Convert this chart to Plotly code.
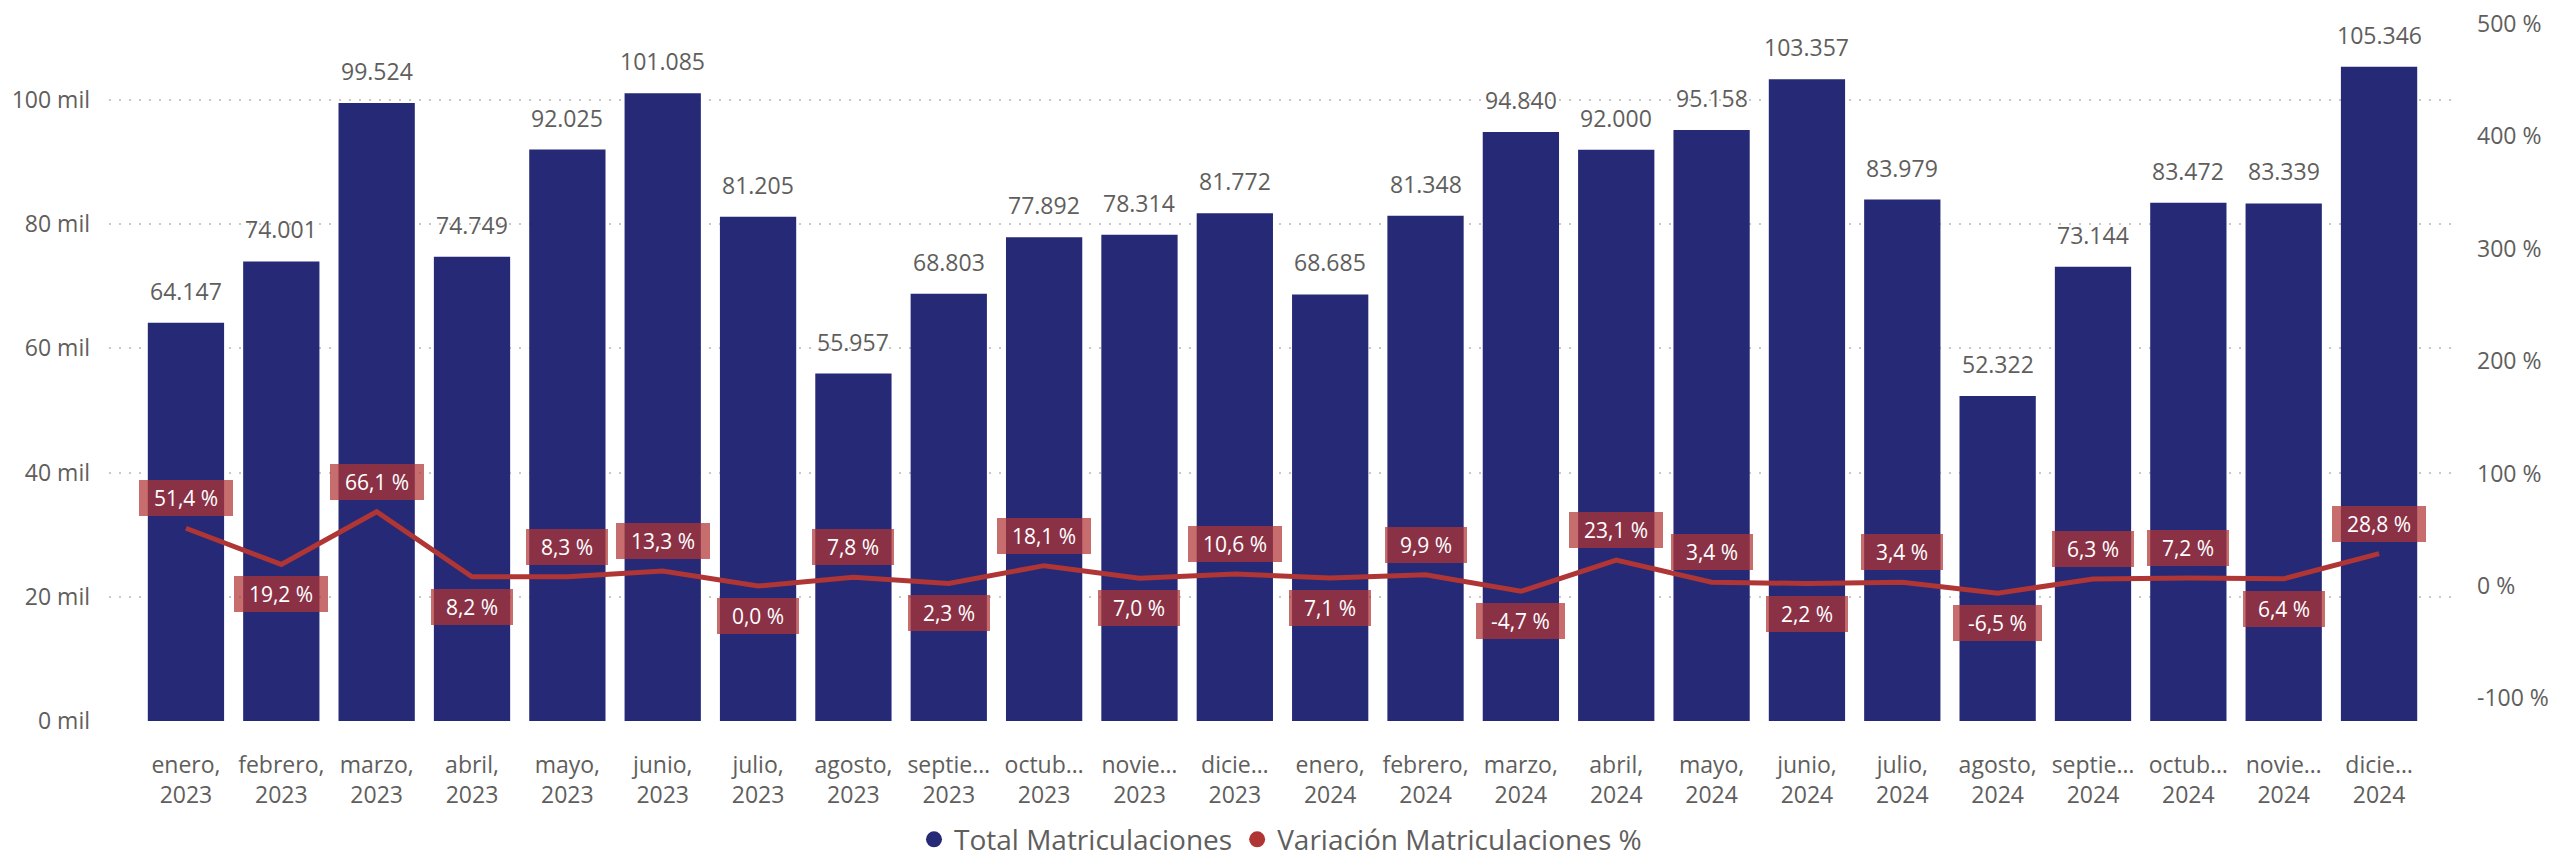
import plotly.graph_objects as go

months = ["enero,", "febrero,", "marzo,", "abril,", "mayo,", "junio,", "julio,", "agosto,",
          "septie…", "octub…", "novie…", "dicie…"] * 2
years = ["2023"] * 12 + ["2024"] * 12
categories = [f"{m}<br>{y}" for m, y in zip(months, years)]

total_matriculaciones = [64147, 74001, 99524, 74749, 92025, 101085, 81205, 55957, 68803, 77892,
                         78314, 81772, 68685, 81348, 94840, 92000, 95158, 103357, 83979, 52322,
                         73144, 83472, 83339, 105346]
variacion_pct = [51.4, 19.2, 66.1, 8.2, 8.3, 13.3, 0.0, 7.8, 2.3, 18.1, 7.0, 10.6,
                 7.1, 9.9, -4.7, 23.1, 3.4, 2.2, 3.4, -6.5, 6.3, 7.2, 6.4, 28.8]
# 1 = label above the point, -1 = below
label_side = [1, -1, 1, -1, 1, 1, -1, 1, -1, 1, -1, 1,
              -1, 1, -1, 1, 1, -1, 1, -1, 1, 1, -1, 1]

left_ticks = [0, 20000, 40000, 60000, 80000, 100000]
left_ticktext = ["0 mil", "20 mil", "40 mil", "60 mil", "80 mil", "100 mil"]
right_ticks = [-100, 0, 100, 200, 300, 400, 500]
right_ticktext = ["-100 %", "0 %", "100 %", "200 %", "300 %", "400 %", "500 %"]

FONT = "Segoe UI, Open Sans, Noto Sans, sans-serif"
TXT = "#605E5C"
BAR = "#262975"
LINE = "#B03535"
NB = "\u00a0\u00a0"

x = list(range(len(categories)))

fig = go.Figure()
fig.add_trace(go.Bar(x=x, y=total_matriculaciones, marker=dict(color=BAR, line=dict(width=0)),
                     showlegend=False, hoverinfo="skip"))
fig.add_trace(go.Scatter(x=x, y=variacion_pct, yaxis="y2", mode="lines",
                         line=dict(color=LINE, width=5), showlegend=False, hoverinfo="skip"))
# legend entries with circle symbols
fig.add_trace(go.Scatter(x=[None], y=[None], mode="markers", name="Total Matriculaciones",
                         marker=dict(color=BAR, size=20, symbol="circle")))
fig.add_trace(go.Scatter(x=[None], y=[None], mode="markers", name="Variación Matriculaciones %",
                         marker=dict(color=LINE, size=20, symbol="circle")))

annotations = []
for i, v in enumerate(total_matriculaciones):
    annotations.append(dict(x=i, y=v, xref="x", yref="y", text=f"{v:,}".replace(",", "."),
                            showarrow=False, yanchor="bottom", yshift=14,
                            font=dict(family=FONT, size=23, color=TXT)))
for i, (v, s) in enumerate(zip(variacion_pct, label_side)):
    annotations.append(dict(x=i, y=v, xref="x", yref="y2",
                            text=NB + f"{v:.1f}".replace(".", ",") + " %" + NB,
                            showarrow=False, yanchor="middle", yshift=30 * s,
                            bgcolor="rgba(178,52,52,0.72)", borderpad=4, borderwidth=0,
                            font=dict(family=FONT, size=21, color="white")))

fig.update_layout(
    width=2557, height=850,
    margin=dict(l=101, r=113, t=8, b=137, autoexpand=False),
    paper_bgcolor="white", plot_bgcolor="white",
    font=dict(family=FONT, color=TXT),
    bargap=0.2,
    xaxis=dict(range=[-0.807, 23.765], tickvals=x, ticktext=categories, showgrid=False,
               zeroline=False, showline=False, ticks="", tickfont=dict(size=23, color=TXT),
               ticklabelstandoff=28, automargin=False),
    yaxis=dict(range=[0, 113530], tickvals=left_ticks, ticktext=left_ticktext,
               showgrid=True, gridcolor="#C8C8C8", gridwidth=2, griddash="2px,8px",
               zeroline=False, showline=False, ticks="", tickfont=dict(size=23, color=TXT),
               ticklabelstandoff=18, automargin=False),
    yaxis2=dict(range=[-120.1, 507.1], tickvals=right_ticks, ticktext=right_ticktext,
                overlaying="y", side="right", showgrid=False, zeroline=False, showline=False,
                ticks="", tickfont=dict(size=23, color=TXT), ticklabelstandoff=24,
                ticklabeloverflow="allow", automargin=False),
    legend=dict(orientation="h", x=0.5, xanchor="center", y=-0.1683, yanchor="middle",
                font=dict(size=28, color=TXT), itemwidth=30, tracegroupgap=0),
    annotations=annotations,
)

fig.write_html("out.html")
